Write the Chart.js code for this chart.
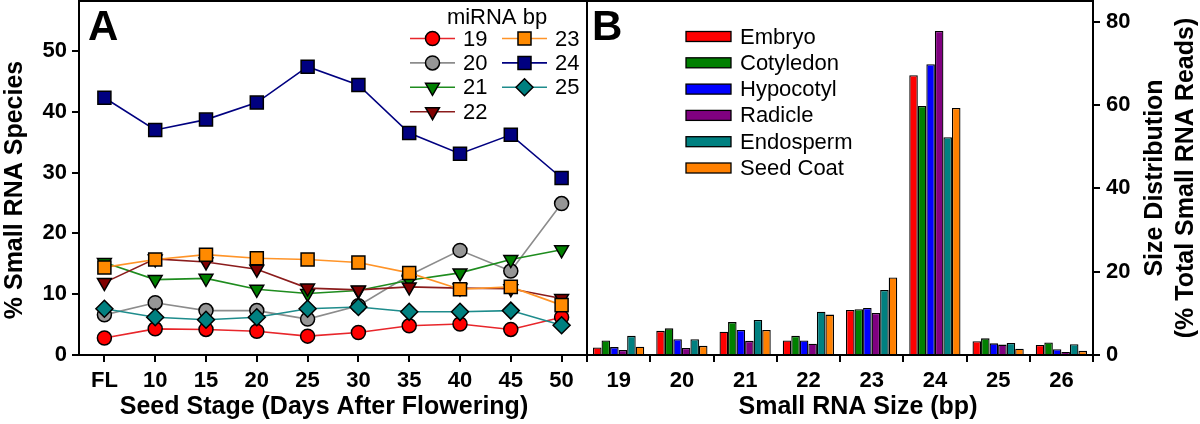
<!DOCTYPE html>
<html>
<head>
<meta charset="utf-8">
<script src="https://cdn.jsdelivr.net/npm/chart.js"></script>
<style>
	body { margin: 0; background: #fff; }
	#wrap { position: relative; width: 1200px; height: 424px; overflow: hidden; }
	canvas { position: absolute; top: 0; }
	#chartA { left: 0; }
	#chartB { left: 580px; }
</style>
</head>
<body>
<div id="wrap">
	<canvas id="chartA" width="588" height="424"></canvas>
	<canvas id="chartB" width="620" height="424"></canvas>
</div>
<script>
var stages = ['FL', '10', '15', '20', '25', '30', '35', '40', '45', '50']
var bp19 = [2.8, 4.3, 4.2, 3.9, 3.1, 3.7, 4.8, 5.1, 4.2, 6.2]
var bp20 = [6.6, 8.6, 7.3, 7.3, 5.9, 8.1, 13.1, 17.2, 13.8, 24.9]
var bp21 = [15.2, 12.4, 12.6, 10.8, 10.1, 10.6, 12.3, 13.5, 15.7, 17.3]
var bp22 = [11.9, 15.8, 15.3, 14.1, 11.0, 10.7, 11.2, 11.0, 10.9, 9.3]
var bp23 = [14.4, 15.7, 16.5, 15.9, 15.7, 15.2, 13.5, 10.8, 11.2, 8.2]
var bp24 = [42.3, 37.0, 38.7, 41.5, 47.4, 44.4, 36.5, 33.1, 36.2, 29.1]
var bp25 = [7.6, 6.2, 5.8, 6.2, 7.6, 7.9, 7.1, 7.1, 7.3, 4.9]
var ticksA = [0, 10, 20, 30, 40, 50]

var sizes = ['19', '20', '21', '22', '23', '24', '25', '26']
var embryo = [1.8, 5.8, 5.6, 3.5, 10.8, 67.2, 3.3, 2.4]
var cotyledon = [3.5, 6.4, 7.9, 4.6, 11.0, 59.8, 4.0, 3.0]
var hypocotyl = [1.9, 3.8, 6.0, 3.5, 11.3, 69.8, 2.8, 1.4]
var radicle = [1.2, 1.7, 3.4, 2.7, 10.1, 77.8, 2.5, 0.7]
var endosperm = [4.6, 3.8, 8.4, 10.4, 15.6, 52.3, 2.9, 2.6]
var seedCoat = [2.0, 2.2, 6.0, 9.7, 18.6, 59.3, 1.5, 1.0]
var ticksB = [0, 20, 40, 60, 80]

var FONT = "'Liberation Sans', Arial, Helvetica, sans-serif"
Chart.defaults.font.family = FONT
Chart.defaults.color = '#000'

function lineSet(label, data, line, fill, style, radius, rotation, order) {
	return {
		label: label,
		data: data,
		borderColor: line,
		borderWidth: 1.6,
		pointBackgroundColor: fill,
		pointBorderColor: '#000',
		pointBorderWidth: 1.5,
		pointStyle: style,
		pointRadius: radius,
		pointRotation: rotation,
		tension: 0,
		clip: false,
		order: order
	}
}

function barSet(label, data, color) {
	return {
		label: label,
		data: data,
		backgroundColor: color,
		borderColor: '#000',
		borderWidth: 1.3,
		categoryPercentage: 0.81,
		barPercentage: 1.0
	}
}

function marker(ctx, style, x, y, r, rot, fill) {
	ctx.save()
	ctx.fillStyle = fill
	ctx.strokeStyle = '#000'
	ctx.lineWidth = 1.5
	ctx.beginPath()
	if (style == 'circle') {
		ctx.arc(x, y, r, 0, Math.PI * 2)
	} else if (style == 'rect') {
		var s = r * Math.SQRT1_2
		ctx.rect(x - s, y - s, 2 * s, 2 * s)
	} else if (style == 'rectRot') {
		ctx.moveTo(x - r, y)
		ctx.lineTo(x, y - r)
		ctx.lineTo(x + r, y)
		ctx.lineTo(x, y + r)
	} else {
		var a = rot * Math.PI / 180
		for (var i = 0; i < 3; i++) {
			var px = x + Math.sin(a) * r, py = y - Math.cos(a) * r
			if (i == 0) ctx.moveTo(px, py); else ctx.lineTo(px, py)
			a += Math.PI * 2 / 3
		}
	}
	ctx.closePath()
	ctx.fill()
	ctx.stroke()
	ctx.restore()
}

// axis titles drawn by hand, the original ones sit off centre
function upText(ctx, text, x, y) {
	ctx.save()
	ctx.translate(x, y)
	ctx.rotate(-Math.PI / 2)
	ctx.fillText(text, 0, 0)
	ctx.restore()
}

var frame = {
	id: 'frame',
	afterDraw: function (chart) {
		var a = chart.chartArea, ctx = chart.ctx
		ctx.save()
		ctx.strokeStyle = '#000'
		ctx.lineWidth = 2
		ctx.strokeRect(a.left, a.top, a.right - a.left, a.bottom - a.top)
		ctx.restore()
	}
}

var legendA = {
	id: 'legendA',
	afterDraw: function (chart) {
		var ctx = chart.ctx
		ctx.save()
		ctx.fillStyle = '#000'
		ctx.font = 'bold 42px ' + FONT
		ctx.textAlign = 'left'
		ctx.textBaseline = 'alphabetic'
		ctx.fillText('A', 88, 40)

		ctx.font = 'bold 25px ' + FONT
		ctx.textAlign = 'center'
		ctx.textBaseline = 'middle'
		ctx.fillText('Seed Stage (Days After Flowering)', 324, 407)
		upText(ctx, '% Small RNA Species', 15, 190)

		ctx.font = '22px ' + FONT
		ctx.textBaseline = 'alphabetic'
		ctx.fillText('miRNA bp', 497, 24)
		ctx.textAlign = 'left'
		ctx.textBaseline = 'middle'
		chart.data.datasets.forEach(function (ds, i) {
			var col = i < 4 ? 0 : 1
			var row = i < 4 ? i : i - 4
			var y = 38.5 + row * 24.4
			var x0 = col == 0 ? 410 : 502
			ctx.strokeStyle = ds.borderColor
			ctx.lineWidth = 1.6
			ctx.beginPath()
			ctx.moveTo(x0, y)
			ctx.lineTo(x0 + 45, y)
			ctx.stroke()
			marker(ctx, ds.pointStyle, x0 + 22.5, y, ds.pointRadius, ds.pointRotation, ds.pointBackgroundColor)
			ctx.fillStyle = '#000'
			ctx.fillText(ds.label, x0 + 53, y + 1)
		})
		ctx.restore()
	}
}

var legendB = {
	id: 'legendB',
	afterDraw: function (chart) {
		var ctx = chart.ctx
		ctx.save()
		ctx.fillStyle = '#000'
		ctx.font = 'bold 42px ' + FONT
		ctx.textBaseline = 'alphabetic'
		ctx.fillText('B', 12, 40)
		ctx.font = '22px ' + FONT
		ctx.textBaseline = 'middle'
		chart.data.datasets.forEach(function (ds, i) {
			var y = 36.5 + i * 26.3
			ctx.fillStyle = ds.backgroundColor
			ctx.fillRect(106, y - 5, 45, 10)
			ctx.strokeStyle = '#000'
			ctx.lineWidth = 1.3
			ctx.strokeRect(106, y - 5, 45, 10)
			ctx.fillStyle = '#000'
			ctx.fillText(ds.label, 160, y + 1)
		})
		ctx.font = 'bold 25px ' + FONT
		ctx.textAlign = 'center'
		ctx.fillText('Small RNA Size (bp)', 278, 407)
		upText(ctx, 'Size Distribution', 575, 178)
		upText(ctx, '(% Total Small RNA Reads)', 606, 178)
		ctx.restore()
	}
}

function axisGrid() {
	return { display: true, drawOnChartArea: false, drawTicks: true, tickLength: 7, color: '#000', lineWidth: 2 }
}

function fitX(s) {
	s.height = 69
	s.paddingLeft = 0
	s.paddingRight = 0
}

function fitY(w) {
	return function (s) {
		s.width = w
		s.paddingTop = 0
		s.paddingBottom = 0
	}
}

var chartA = new Chart(document.getElementById('chartA'), {
	type: 'line',
	data: {
		labels: stages,
		datasets: [
			lineSet('19', bp19, '#e8262b', '#ff0000', 'circle', 7, 0, 6),
			lineSet('20', bp20, '#8c8c8c', '#969696', 'circle', 7, 0, 5),
			lineSet('21', bp21, '#1e8c1e', '#008000', 'triangle', 8, 180, 4),
			lineSet('22', bp22, '#8b1c1c', '#800000', 'triangle', 8, 180, 3),
			lineSet('23', bp23, '#ff9428', '#ff8a00', 'rect', 9.2, 0, 2),
			lineSet('24', bp24, '#000080', '#000080', 'rect', 9.2, 0, 1),
			lineSet('25', bp25, '#1e8c8c', '#008080', 'rectRot', 8.5, 0, 0)
		]
	},
	options: {
		responsive: false,
		animation: false,
		devicePixelRatio: 1,
		layout: { autoPadding: false, padding: { top: 1, right: 1, left: 0, bottom: 0 } },
		plugins: { legend: { display: false }, tooltip: { enabled: false } },
		scales: {
			x: {
				offset: true,
				grid: axisGrid(),
				border: { display: true, color: '#000', width: 2 },
				ticks: { font: { size: 22, weight: 'bold' }, padding: 6, maxRotation: 0, autoSkip: false },
				afterFit: fitX
			},
			y: {
				min: 0,
				max: 58.2,
				grid: axisGrid(),
				border: { display: true, color: '#000', width: 2 },
				ticks: { font: { size: 22, weight: 'bold' }, padding: 5 },
				afterBuildTicks: function (s) { s.ticks = ticksA.map(function (v) { return { value: v } }) },
				afterFit: fitY(79)
			}
		}
	},
	plugins: [frame, legendA]
})

var chartB = new Chart(document.getElementById('chartB'), {
	type: 'bar',
	data: {
		labels: sizes,
		datasets: [
			barSet('Embryo', embryo, '#ff0000'),
			barSet('Cotyledon', cotyledon, '#008000'),
			barSet('Hypocotyl', hypocotyl, '#0000ff'),
			barSet('Radicle', radicle, '#800080'),
			barSet('Endosperm', endosperm, '#008080'),
			barSet('Seed Coat', seedCoat, '#ff8000')
		]
	},
	options: {
		responsive: false,
		animation: false,
		devicePixelRatio: 1,
		layout: { autoPadding: false, padding: { top: 1, right: 0, left: 7, bottom: 0 } },
		plugins: { legend: { display: false }, tooltip: { enabled: false } },
		scales: {
			x: {
				grid: axisGrid(),
				border: { display: true, color: '#000', width: 2 },
				ticks: { font: { size: 22, weight: 'bold' }, padding: 6, maxRotation: 0, autoSkip: false },
				afterFit: fitX
			},
			y: {
				position: 'right',
				min: 0,
				max: 85,
				grid: axisGrid(),
				border: { display: true, color: '#000', width: 2 },
				ticks: { font: { size: 22, weight: 'bold' }, padding: 6 },
				afterBuildTicks: function (s) { s.ticks = ticksB.map(function (v) { return { value: v } }) },
				afterFit: fitY(107)
			}
		}
	},
	plugins: [frame, legendB]
})
</script>
</body>
</html>
